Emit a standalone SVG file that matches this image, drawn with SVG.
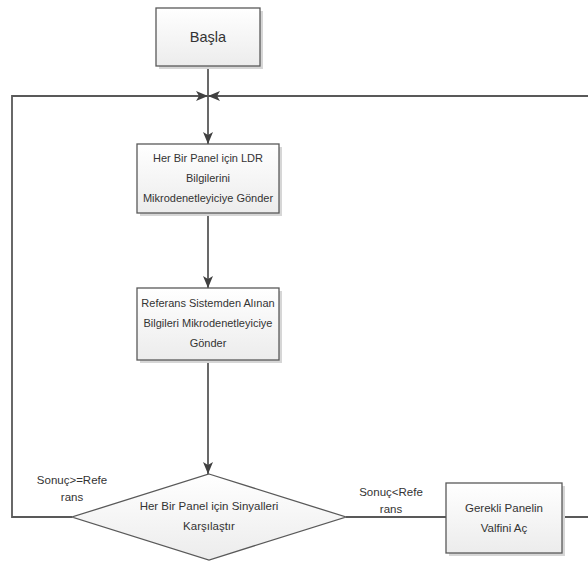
<svg xmlns="http://www.w3.org/2000/svg" width="588" height="563" viewBox="0 0 588 563">
<defs>
<linearGradient id="g" x1="0" y1="0" x2="0" y2="1">
<stop offset="0" stop-color="#ffffff"/>
<stop offset="1" stop-color="#ececec"/>
</linearGradient>
<marker id="ah" markerUnits="userSpaceOnUse" markerWidth="12" markerHeight="10" refX="12" refY="5" orient="auto">
<path d="M0,0 L12,5 L0,10 L3,5 Z" fill="#404040"/>
</marker>
</defs>
<style>
.box{fill:url(#g);stroke:#595959;stroke-width:1.3}
.sh{fill:#d6d6d6}
.ln{fill:none;stroke:#595959;stroke-width:1.8}
text{font-family:"Liberation Sans",Arial,sans-serif;font-size:11px;fill:#333;text-anchor:middle}
</style>
<g id="connectors">
<path class="ln" d="M208,66 V144" marker-end="url(#ah)"/>
<path class="ln" d="M208,213 V288" marker-end="url(#ah)"/>
<path class="ln" d="M208,360 V474" marker-end="url(#ah)"/>
<path class="ln" d="M72,517 H12 V96 H208" marker-end="url(#ah)"/>
<path class="ln" d="M346,517 H446"/>
<path class="ln" d="M562,517 H600 V96 H208" marker-end="url(#ah)"/>
<text x="72" y="484" style="font-size:11.5px">Sonuç&gt;=Refe</text>
<text x="72" y="501" style="font-size:11.5px">rans</text>
<text x="391" y="496" style="font-size:11.5px">Sonuç&lt;Refe</text>
<text x="391" y="513" style="font-size:11.5px">rans</text>
</g>
<g id="basla">
<rect class="sh" x="159" y="11" width="104" height="58"/>
<rect class="box" x="156" y="8" width="104" height="58"/>
<text x="208" y="42" style="font-size:14.5px">Başla</text>
</g>
<g id="ldr">
<rect class="sh" x="140" y="147" width="142" height="69"/>
<rect class="box" x="137" y="144" width="142" height="69"/>
<text x="208" y="162">Her Bir Panel için LDR</text>
<text x="208" y="182">Bilgilerini</text>
<text x="208" y="202">Mikrodenetleyiciye Gönder</text>
</g>
<g id="referans">
<rect class="sh" x="140" y="291" width="142" height="72"/>
<rect class="box" x="137" y="288" width="142" height="72"/>
<text x="208" y="307">Referans Sistemden Alınan</text>
<text x="208" y="327">Bilgileri Mikrodenetleyiciye</text>
<text x="208" y="347">Gönder</text>
</g>
<g id="karsilastir">
<polygon class="box" points="209,474 346,517 209,560 72,517"/>
<text x="209" y="510" style="font-size:11.5px">Her Bir Panel için Sinyalleri</text>
<text x="209" y="530" style="font-size:11.5px">Karşılaştır</text>
</g>
<g id="valf">
<rect class="sh" x="449" y="486" width="116" height="70"/>
<rect class="box" x="446" y="483" width="116" height="70"/>
<text x="504" y="512" style="font-size:11.5px">Gerekli Panelin</text>
<text x="504" y="532" style="font-size:11.5px">Valfini Aç</text>
</g>
</svg>
